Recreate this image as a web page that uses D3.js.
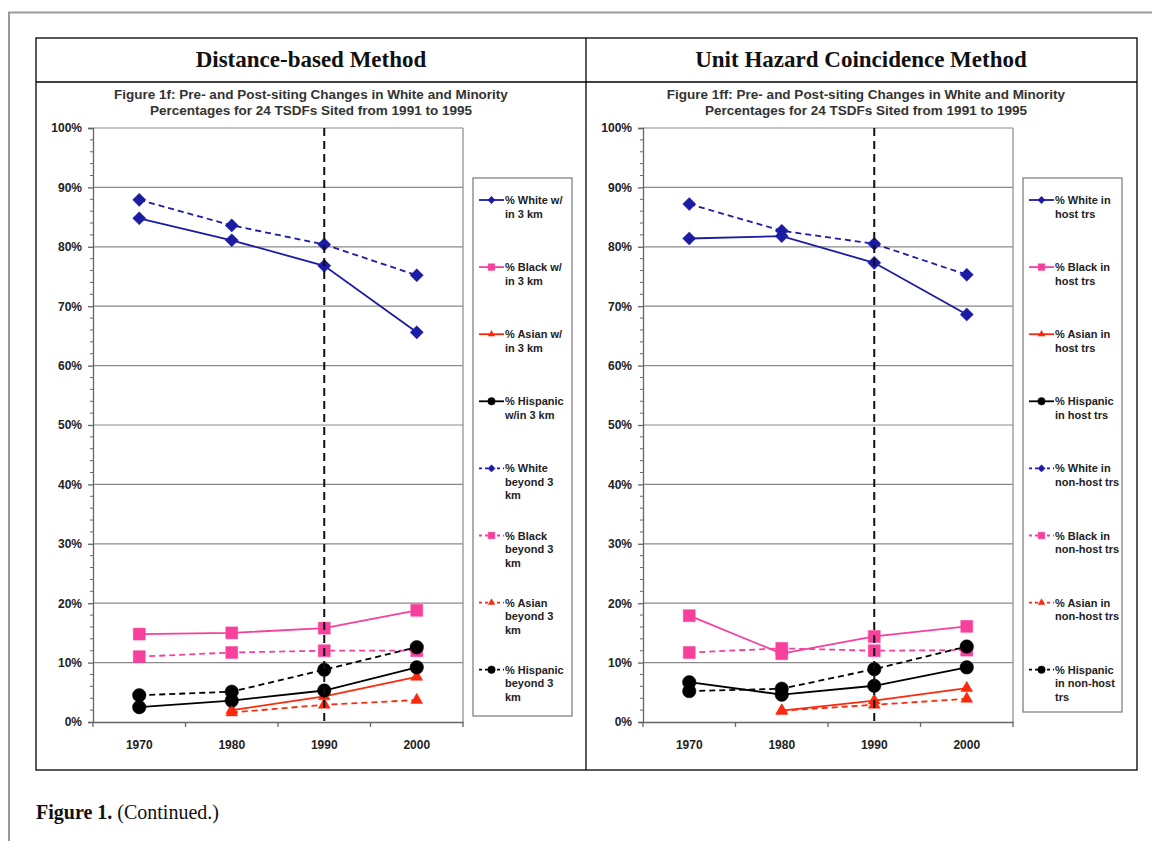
<!DOCTYPE html>
<html>
<head>
<meta charset="utf-8">
<script src="https://cdn.jsdelivr.net/npm/d3@7"></script>
<style>
  body { margin: 0; background: #fff; }
  text { font-family: "Liberation Sans", Arial, sans-serif; }
</style>
</head>
<body>
<svg id="fig" width="1152" height="841"></svg>
<script>
// categories and ticks
var years = ["1970", "1980", "1990", "2000"];
var yTicks = [0, 10, 20, 30, 40, 50, 60, 70, 80, 90, 100];
var siteYear = "1990";

// Distance-based method (percent)
var distWhiteIn  = [84.8, 81.1, 76.8, 65.6];
var distBlackIn  = [14.8, 15.0, 15.8, 18.8];
var distAsianIn  = [null, 2.0, 4.3, 7.6];
var distHispIn   = [2.5, 3.6, 5.3, 9.2];
var distWhiteOut = [87.9, 83.6, 80.4, 75.2];
var distBlackOut = [11.0, 11.7, 12.0, 12.0];
var distAsianOut = [null, 1.6, 2.9, 3.7];
var distHispOut  = [4.5, 5.1, 8.8, 12.6];

// Unit hazard coincidence method (percent)
var uhcWhiteIn  = [81.4, 81.8, 77.3, 68.6];
var uhcBlackIn  = [17.9, 11.5, 14.4, 16.1];
var uhcAsianIn  = [null, 1.9, 3.6, 5.7];
var uhcHispIn   = [6.7, 4.6, 6.1, 9.2];
var uhcWhiteOut = [87.2, 82.7, 80.5, 75.3];
var uhcBlackOut = [11.7, 12.4, 12.0, 12.1];
var uhcAsianOut = [null, 1.9, 2.9, 3.9];
var uhcHispOut  = [5.2, 5.6, 8.9, 12.7];

var distLabels = [["% White w/", "in 3 km"], ["% Black w/", "in 3 km"], ["% Asian w/", "in 3 km"],
  ["% Hispanic", "w/in 3 km"], ["% White", "beyond 3", "km"], ["% Black", "beyond 3", "km"],
  ["% Asian", "beyond 3", "km"], ["% Hispanic", "beyond 3", "km"]];
var uhcLabels = [["% White in", "host trs"], ["% Black in", "host trs"], ["% Asian in", "host trs"],
  ["% Hispanic", "in host trs"], ["% White in", "non-host trs"], ["% Black in", "non-host trs"],
  ["% Asian in", "non-host trs"], ["% Hispanic", "in non-host", "trs"]];

var NAVY = "#1b1ba3", PINK = "#f7409c", RED = "#fb2a0c", BLACK = "#000";
var styles = [
  {color: NAVY, shape: "diamond", dash: null},
  {color: PINK, shape: "square", dash: null},
  {color: RED, shape: "triangle", dash: null},
  {color: BLACK, shape: "circle", dash: null},
  {color: NAVY, shape: "diamond", dash: "6,4"},
  {color: PINK, shape: "square", dash: "6,4"},
  {color: RED, shape: "triangle", dash: "6,4"},
  {color: BLACK, shape: "circle", dash: "6,4"}
];

var svg = d3.select("#fig");

// page edge
svg.append("path").attr("d", "M9,841 V12.5 H1152").attr("fill", "none")
  .attr("stroke", "#9a9a9a").attr("stroke-width", 2);

// table frame
var tbl = svg.append("g").attr("fill", "none").attr("stroke", "#000").attr("stroke-width", 1.3);
tbl.append("rect").attr("x", 36).attr("y", 38).attr("width", 1101).attr("height", 732);
tbl.append("line").attr("x1", 36).attr("x2", 1137).attr("y1", 82).attr("y2", 82);
tbl.append("line").attr("x1", 586).attr("x2", 586).attr("y1", 38).attr("y2", 770);

function header(cx, txt) {
  svg.append("text").attr("x", cx).attr("y", 67).attr("text-anchor", "middle")
    .style("font-family", "'Liberation Serif', 'DejaVu Serif', serif")
    .style("font-weight", "bold").style("font-size", "23px").attr("fill", "#111").text(txt);
}
header(311, "Distance-based Method");
header(861, "Unit Hazard Coincidence Method");

// caption
var cap = svg.append("text").attr("x", 36).attr("y", 819)
  .style("font-family", "'Liberation Serif', serif").style("font-size", "20px").attr("fill", "#111");
cap.append("tspan").style("font-weight", "bold").text("Figure 1.");
cap.append("tspan").text(" (Continued.)");

function marker(sel, shape, size, color) {
  var sym = {diamond: d3.symbolDiamond2, square: d3.symbolSquare2, triangle: d3.symbolTriangle2, circle: d3.symbolCircle}[shape];
  var area = {diamond: size * size * 0.6, square: size * size, triangle: size * size * 0.55, circle: size * size * 0.785}[shape];
  sel.append("path").attr("d", d3.symbol(sym, area)()).attr("fill", color).attr("stroke", color).attr("stroke-width", 0.5);
}

function panel(cfg) {
  var g = svg.append("g");
  var x = d3.scaleBand().domain(years).range([cfg.x0, cfg.x1]);
  var y = d3.scaleLinear().domain([0, 100]).range([722, 128]);

  // chart title
  g.append("text").attr("x", cfg.tc).attr("y", 99).attr("text-anchor", "middle")
    .style("font-weight", "bold").style("font-size", "13.5px").attr("fill", "#333").text(cfg.title1);
  g.append("text").attr("x", cfg.tc).attr("y", 115).attr("text-anchor", "middle")
    .style("font-weight", "bold").style("font-size", "13.5px").attr("fill", "#333")
    .text("Percentages for 24 TSDFs Sited from 1991 to 1995");

  // gridlines
  g.append("g").selectAll("line").data(yTicks.filter(function (t) { return t > 0; })).join("line")
    .attr("x1", cfg.x0).attr("x2", cfg.x1).attr("y1", y).attr("y2", y)
    .attr("stroke", "#8a8a8a").attr("stroke-width", 1.2);
  g.append("line").attr("x1", cfg.x1).attr("x2", cfg.x1).attr("y1", 128).attr("y2", 722)
    .attr("stroke", "#8a8a8a").attr("stroke-width", 1.2);

  // y axis
  var ya = g.append("g").attr("transform", "translate(" + cfg.x0 + ",0)")
    .call(d3.axisLeft(y).tickValues(yTicks).tickFormat(function (d) { return d + "%"; }).tickSize(5).tickPadding(6));
  ya.append("g").selectAll("line").data(d3.range(0, 101, 2).filter(function (d) { return d % 10; })).join("line")
    .attr("x1", -3).attr("x2", 0).attr("y1", y).attr("y2", y).attr("stroke", "#666");
  ya.selectAll("text").style("font-size", "12px").style("font-weight", "bold").attr("fill", "#222");
  ya.selectAll(".domain, .tick line").attr("stroke", "#666").attr("stroke-width", 1.3);

  // x axis
  var xa = g.append("g").attr("transform", "translate(0,722)")
    .call(d3.axisBottom(x).tickSize(0).tickPadding(18));
  xa.selectAll("text").style("font-size", "12px").style("font-weight", "bold").attr("fill", "#222");
  xa.select(".domain").attr("stroke", "#666").attr("stroke-width", 1.3);
  xa.append("g").selectAll("line").data(years.concat(["end"])).join("line")
    .attr("x1", function (d, i) { return cfg.x0 + i * x.step(); })
    .attr("x2", function (d, i) { return cfg.x0 + i * x.step(); })
    .attr("y1", 0).attr("y2", 5).attr("stroke", "#666").attr("stroke-width", 1.3);

  var cx = function (i) { return x(years[i]) + x.bandwidth() / 2; };

  // series
  cfg.series.forEach(function (vals, k) {
    var st = styles[k];
    var pts = vals.map(function (v, i) { return {i: i, v: v}; }).filter(function (p) { return p.v != null; });
    g.append("path").datum(pts)
      .attr("d", d3.line().x(function (p) { return cx(p.i); }).y(function (p) { return y(p.v); }))
      .attr("fill", "none").attr("stroke", st.color).attr("stroke-width", 1.8)
      .attr("stroke-dasharray", st.dash);
    pts.forEach(function (p) {
      var m = g.append("g").attr("transform", "translate(" + cx(p.i) + "," + y(p.v) + ")");
      marker(m, st.shape, 13.5, st.color);
    });
  });

  // siting line at 1990
  g.append("line").attr("x1", cx(years.indexOf(siteYear))).attr("x2", cx(years.indexOf(siteYear)))
    .attr("y1", 128).attr("y2", 722).attr("stroke", "#111").attr("stroke-width", 2)
    .attr("stroke-dasharray", "8,5");

  // legend
  var L = cfg.legend;
  g.append("rect").attr("x", L.x).attr("y", 178).attr("width", L.w).attr("height", L.h)
    .attr("fill", "#fff").attr("stroke", "#777").attr("stroke-width", 1.2);
  cfg.labels.forEach(function (lab, k) {
    var st = styles[k];
    var ly = 200 + k * 67.1;
    var e = g.append("g");
    e.append("line").attr("x1", L.x + 6).attr("x2", L.x + 31).attr("y1", ly).attr("y2", ly)
      .attr("stroke", st.color).attr("stroke-width", 1.8).attr("stroke-dasharray", st.dash ? "3,3" : null);
    var m = e.append("g").attr("transform", "translate(" + (L.x + 18.5) + "," + ly + ")");
    marker(m, st.shape, 7.5, st.color);
    lab.forEach(function (t, j) {
      e.append("text").attr("x", L.x + 32).attr("y", ly + 4 + j * 13.5)
        .style("font-size", "11px").style("font-weight", "bold").attr("fill", "#222").text(t);
    });
  });
}

panel({
  x0: 93, x1: 463, tc: 311,
  title1: "Figure 1f: Pre- and Post-siting Changes in White and Minority",
  series: [distWhiteIn, distBlackIn, distAsianIn, distHispIn, distWhiteOut, distBlackOut, distAsianOut, distHispOut],
  labels: distLabels,
  legend: {x: 473, w: 99, h: 538}
});
panel({
  x0: 643, x1: 1013, tc: 866,
  title1: "Figure 1ff: Pre- and Post-siting Changes in White and Minority",
  series: [uhcWhiteIn, uhcBlackIn, uhcAsianIn, uhcHispIn, uhcWhiteOut, uhcBlackOut, uhcAsianOut, uhcHispOut],
  labels: uhcLabels,
  legend: {x: 1023, w: 99, h: 534}
});
</script>
</body>
</html>
